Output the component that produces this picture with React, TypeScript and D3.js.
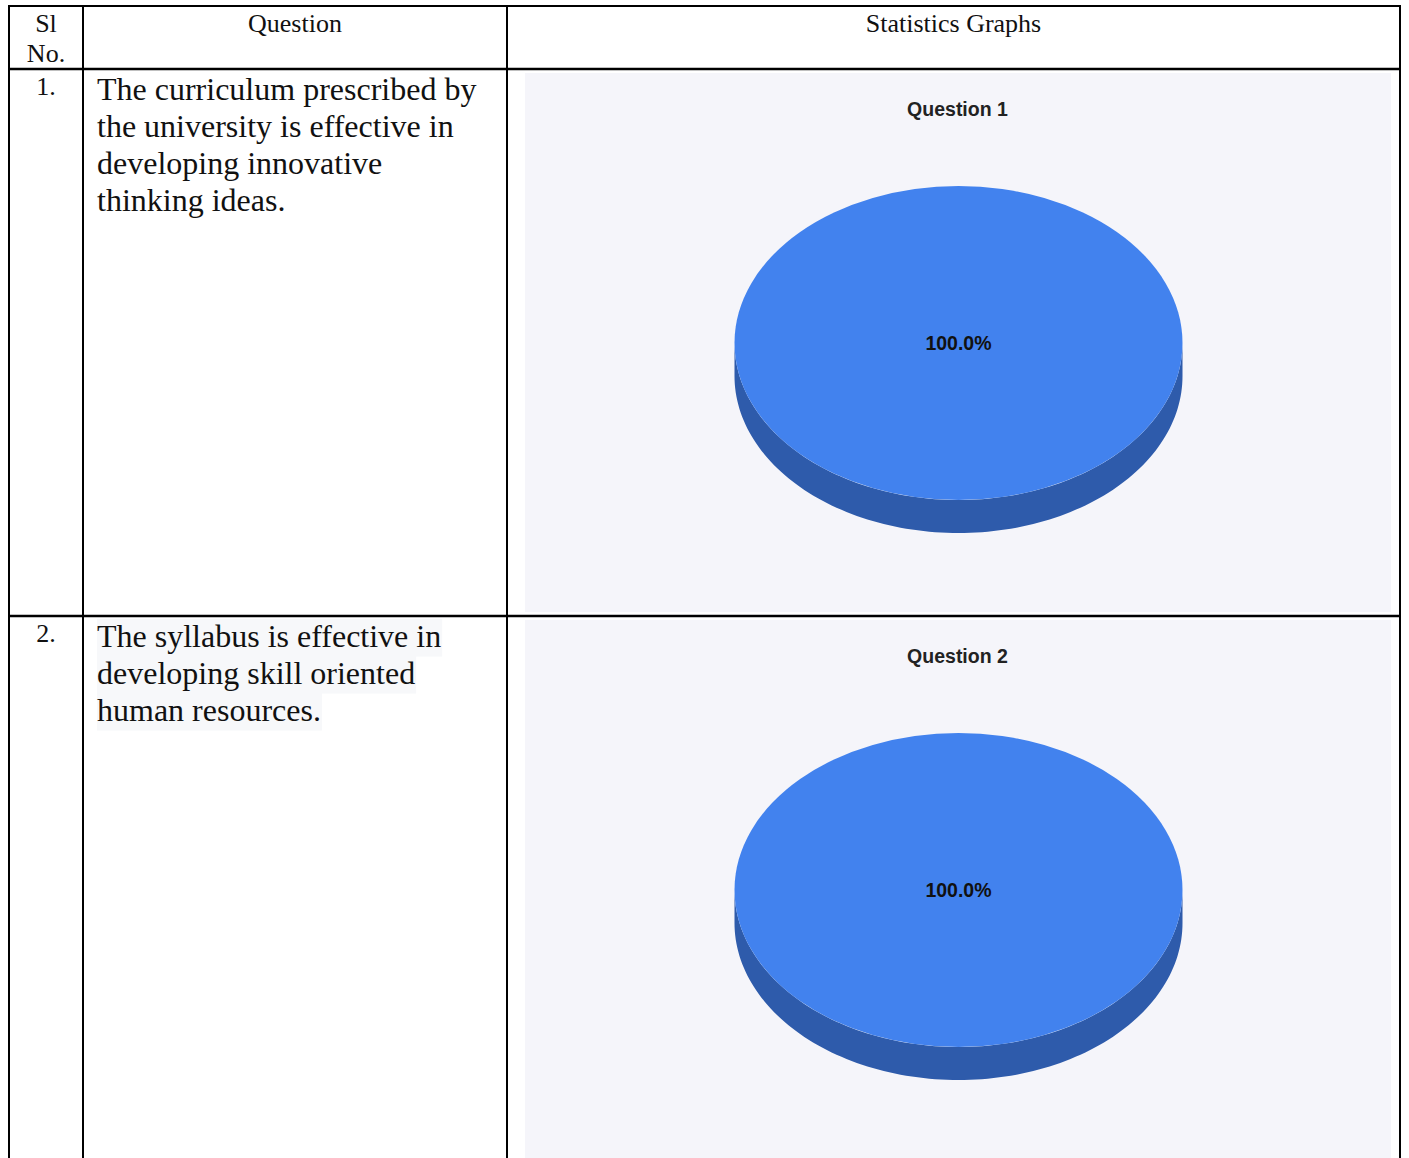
import React, { useEffect, useRef, useState } from "react";
import * as d3 from "d3";

const headers = ["Sl|No.", "Question", "Statistics Graphs"];
const serialNumbers = ["1.", "2."];
const questionLines = [
  ["The curriculum prescribed by", "the university is effective in", "developing innovative", "thinking ideas."],
  ["The syllabus is effective in", "developing skill oriented", "human resources."],
];
const chartTitles = ["Question 1", "Question 2"];
const sliceLabels = ["Yes"];
const seriesValues = [[100], [100]];
const sliceColors = ["#4282ee"];
const sideColors = ["#2e5bab"];

const W = 1409;
const H = 1158;
const colX = [9, 83, 507, 1400];
const rowY = [6, 69, 616, 1158 + 20];

const SERIF = "'Liberation Serif', 'Times New Roman', serif";

function HighlightText({ x, y, text, size, highlight }: { x: number; y: number; text: string; size: number; highlight: boolean }) {
  const ref = useRef<SVGTextElement>(null);
  const [w, setW] = useState(0);
  useEffect(() => {
    if (ref.current) setW(ref.current.getComputedTextLength());
  }, [text]);
  return (
    <g>
      {highlight && w > 0 && <rect x={x} y={y - size * 0.88} width={w + 1} height={size * 1.18} fill="#f7f8fa" />}
      <text ref={ref} x={x} y={y} fontSize={size} fontFamily={SERIF} fill="#111">
        {text}
      </text>
    </g>
  );
}

function Pie3D({ cx, cy, rx, ry, depth, values }: { cx: number; cy: number; rx: number; ry: number; depth: number; values: number[] }) {
  const pie = d3.pie<number>().sort(null).value((d) => d);
  const arcs = pie(values);
  const arcGen = d3.arc<d3.PieArcDatum<number>>().innerRadius(0).outerRadius(1);
  const total = d3.sum(values);
  const pt = (a: number, dy: number) => [cx + rx * Math.sin(a), cy - ry * Math.cos(a) + dy];
  const sidePath = (a0: number, a1: number) => {
    const s = Math.max(a0, Math.PI / 2);
    const e = Math.min(a1, (3 * Math.PI) / 2);
    if (e <= s) return null;
    const n = 120;
    const angles = d3.range(n + 1).map((i) => s + ((e - s) * i) / n);
    const top = angles.map((a) => pt(a, 0));
    const bot = angles.slice().reverse().map((a) => pt(a, depth));
    return "M" + top.concat(bot).map((p) => p.join(",")).join("L") + "Z";
  };
  return (
    <g>
      {arcs.map((a, i) => {
        const p = sidePath(a.startAngle, a.endAngle);
        return p ? <path key={"s" + i} d={p} fill={sideColors[i % sideColors.length]} /> : null;
      })}
      {arcs.map((a, i) => (
        <path
          key={"t" + i}
          d={arcGen(a) || ""}
          transform={`translate(${cx},${cy}) scale(${rx},${ry})`}
          fill={sliceColors[i % sliceColors.length]}
        />
      ))}
      {arcs.map((a, i) => {
        const full = a.endAngle - a.startAngle >= 2 * Math.PI - 1e-6;
        const mid = (a.startAngle + a.endAngle) / 2;
        const lx = full ? cx : cx + rx * 0.6 * Math.sin(mid);
        const ly = full ? cy : cy - ry * 0.6 * Math.cos(mid);
        return (
          <text
            key={"l" + i}
            x={lx}
            y={ly}
            dy="0.35em"
            textAnchor="middle"
            fontFamily="Arial, 'Liberation Sans', sans-serif"
            fontWeight="bold"
            fontSize={19.5}
            fill="#111"
          >
            {((a.value / total) * 100).toFixed(1) + "%"}
            <title>{sliceLabels[i]}</title>
          </text>
        );
      })}
    </g>
  );
}

export default function App() {
  const headerFont = 26;
  const bodyFont = 32;
  const lineH = 37;
  const panelX0 = 525;
  const panelX1 = 1391;
  return (
    <svg width={W} height={H} style={{ position: "absolute", left: 0, top: 0 }} xmlns="http://www.w3.org/2000/svg">
      <rect x={0} y={0} width={W} height={H} fill="#fff" />
      {seriesValues.map((vals, r) => {
        const top = rowY[r + 1];
        const bottom = rowY[r + 2];
        const py0 = top + 4;
        const py1 = Math.min(bottom - 4, H + 10);
        const cx = (panelX0 + panelX1) / 2 + 0.5;
        const cy = top + 274;
        return (
          <g key={r}>
            <rect x={panelX0} y={py0} width={panelX1 - panelX0} height={py1 - py0} fill="#f5f5fa" />
            <text
              x={cx - 1}
              y={top + 40}
              dy="0.35em"
              textAnchor="middle"
              fontFamily="Arial, 'Liberation Sans', sans-serif"
              fontWeight="bold"
              fontSize={19.5}
              fill="#222"
            >
              {chartTitles[r]}
            </text>
            <Pie3D cx={cx} cy={cy} rx={224} ry={157} depth={33} values={vals} />
          </g>
        );
      })}
      {headers[0].split("|").map((t, i) => (
        <text key={"h0" + i} x={(colX[0] + colX[1]) / 2} y={32 + i * 30} textAnchor="middle" fontSize={headerFont} fontFamily={SERIF} fill="#111">
          {t}
        </text>
      ))}
      <text x={(colX[1] + colX[2]) / 2} y={32} textAnchor="middle" fontSize={headerFont} fontFamily={SERIF} fill="#111">
        {headers[1]}
      </text>
      <text x={(colX[2] + colX[3]) / 2} y={32} textAnchor="middle" fontSize={headerFont} fontFamily={SERIF} fill="#111">
        {headers[2]}
      </text>
      {serialNumbers.map((s, r) => (
        <g key={"row" + r}>
          <text x={(colX[0] + colX[1]) / 2} y={rowY[r + 1] + 26} textAnchor="middle" fontSize={headerFont} fontFamily={SERIF} fill="#111">
            {s}
          </text>
          {questionLines[r].map((line, li) => (
            <HighlightText key={li} x={97} y={rowY[r + 1] + 31 + li * lineH} text={line} size={bodyFont} highlight={r === 1} />
          ))}
        </g>
      ))}
      {colX.map((x, i) => (
        <line key={"v" + i} x1={x} x2={x} y1={rowY[0] - 1} y2={H + 5} stroke="#000" strokeWidth={2} />
      ))}
      {rowY.slice(0, 3).map((y, i) => (
        <line key={"hl" + i} x1={colX[0] - 1} x2={colX[3] + 1} y1={y} y2={y} stroke="#000" strokeWidth={i === 0 ? 2 : 2.5} />
      ))}
    </svg>
  );
}
